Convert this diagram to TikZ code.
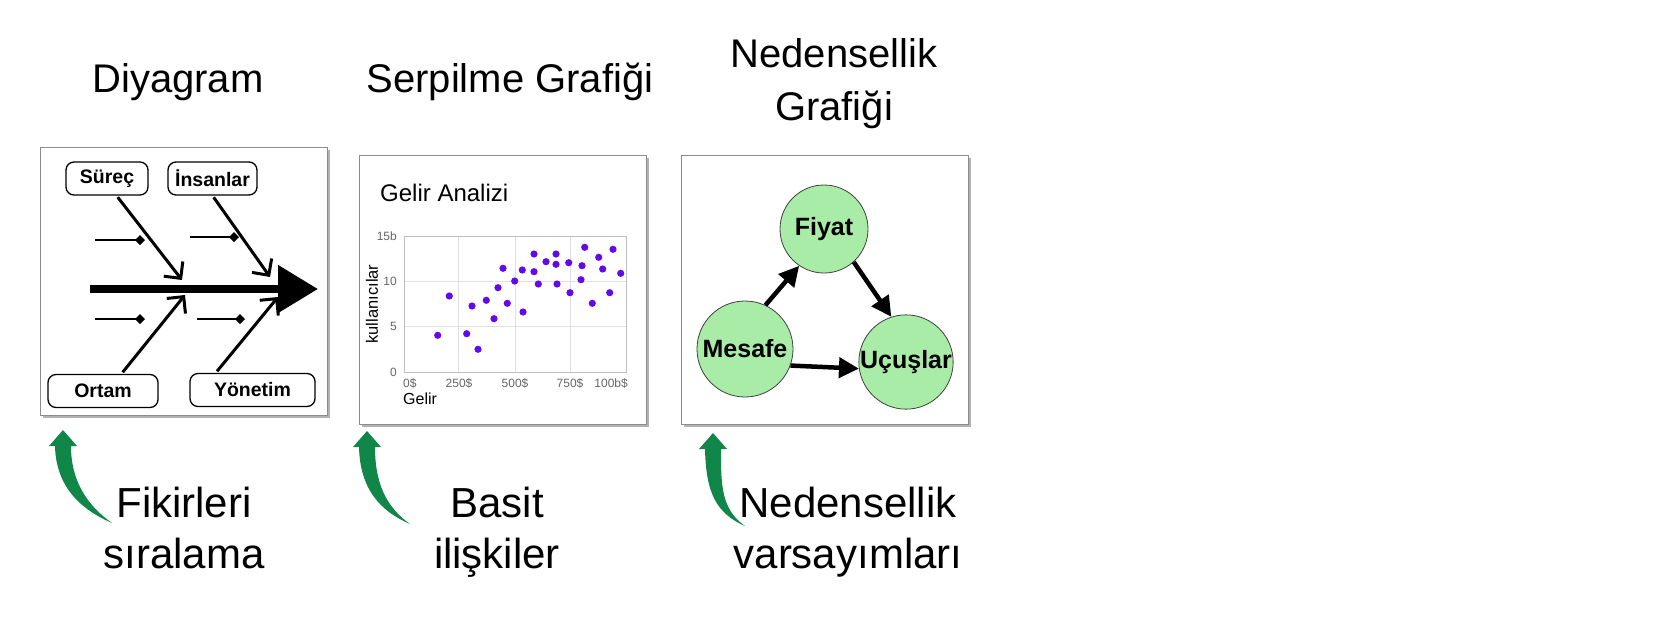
\documentclass[tikz,border=0pt]{standalone}
\usepackage{fontspec}
\setmainfont{Liberation Sans}
\usetikzlibrary{positioning, arrows.meta, calc, shadows}

\definecolor{arrowgreen}{RGB}{16,135,72}
\definecolor{nodegreen}{RGB}{168,236,168}
\definecolor{dotpurple}{RGB}{98,10,232}

\begin{document}
\begin{tikzpicture}[
    x=1pt, y=-1pt,          % 画像のピクセル座標をそのまま使う
    >=Stealth,
    font=\fontsize{40}{53}\selectfont,
    panel/.style={draw=black!45, line width=1pt, fill=white,
        drop shadow={shadow xshift=3pt, shadow yshift=-3pt, fill=black, opacity=0.3}},
    causebox/.style={draw, line width=1.3pt, rounded corners=8pt, fill=white,
        minimum height=33pt, inner sep=0pt, font=\fontsize{19.5}{22}\selectfont\bfseries},
    bone/.style={line width=3pt, -{Straight Barb[angle=90:17pt]}, shorten <=2pt},
    twig/.style={line width=1.5pt, -{Diamond[length=10pt, width=10pt]}},
    tick/.style={text=black!60, font=\fontsize{12}{14}\selectfont, inner sep=0pt},
    circ/.style={circle, draw=black!75, line width=0.8pt, fill=nodegreen,
        inner sep=0pt, font=\fontsize{25}{27}\selectfont\bfseries},
    cause/.style={line width=4.5pt, -{Triangle[length=20pt, width=20pt]}}
]
    \useasboundingbox (0,0) rectangle (1680,624);

    % --- 1. 見出し ---
    % 複数行のノードは最後の行のベースラインで合わせる
    \node [anchor=base] (titleA) at (178,92) {Diyagram};
    \node [anchor=base] (titleB) at (510,92) {Serpilme Grafiği};
    \node [anchor=base, align=center] (titleC) at (834,120) {Nedensellik\\Grafiği};

    % --- 2. 特性要因図 ---
    \draw [panel] (40,147) rectangle (327,415);
    \node [causebox, minimum width=82pt] (surec) at (107,178.5) {Süreç};
    \node [causebox, minimum width=89pt] (insanlar) at (212.5,178.5) {İnsanlar};
    \node [causebox, minimum width=110pt] (ortam) at (103,391) {Ortam};
    \node [causebox, minimum width=125pt] (yonetim) at (252.5,390) {Yönetim};

    % 背骨（太い矢印）
    \draw [line width=8pt, -{Triangle[length=40pt, width=46pt]}] (90,289) -- (318,289);

    \coordinate (b1) at (182,280);
    \coordinate (b2) at (270,277);
    \coordinate (b3) at (185,295);
    \coordinate (b4) at (278,297);
    \draw [bone] (surec.-61) -- (b1);
    \draw [bone] (insanlar.south) -- (b2);
    \draw [bone] (ortam.43) -- (b3);
    \draw [bone] (yonetim.155) -- (b4);

    % 小骨
    \draw [twig] (95,240) -- (145,240);
    \draw [twig] (190,237) -- (239,237);
    \draw [twig] (95,319) -- (145,319);
    \draw [twig] (197,319) -- (245,319);

    % --- 3. 散布図 ---
    \draw [panel] (359,155) rectangle (646,424);
    \node [anchor=base west, inner sep=0pt, font=\fontsize{24}{28}\selectfont] (chartTitle) at (380,201) {Gelir Analizi};

    \foreach \gx in {458,515,570}
        \draw [black!12, line width=0.8pt] (\gx,236) -- (\gx,372);
    \foreach \gy in {281,326}
        \draw [black!12, line width=0.8pt] (404,\gy) -- (626,\gy);
    \draw [black!25, line width=1pt] (404,236) rectangle (626,372);

    \foreach \v/\gy in {15b/236, 10/281, 5/326, 0/372}
        \node [tick, anchor=east] at (397,\gy) {\v};
    \node [tick, anchor=west] at (403,383) {0\$};
    \node [tick] at (459,383) {250\$};
    \node [tick] at (515,383) {500\$};
    \node [tick] at (570,383) {750\$};
    \node [tick, anchor=east] at (628,383) {100b\$};

    \node [anchor=west, inner sep=0pt, font=\fontsize{16}{18}\selectfont] (xlabel) at (403,399) {Gelir};
    \node [rotate=90, inner sep=0pt, font=\fontsize{16.5}{18}\selectfont] (ylabel) at (372,304) {kullanıcılar};

    \foreach \px/\py in {437.7/335.3, 449.3/296, 466.7/333.7, 472/306, 478/349.3,
                         486.3/300.3, 494/318.7, 498/287.7, 503/268.3, 507.3/303.3,
                         514.7/281, 523/312, 522.3/270, 534/254, 534/271.7,
                         538.3/284, 546/261.7, 556/254, 556/264.3, 557/284,
                         568.7/262.7, 570/292.7, 581/279.7, 582/265.7, 584.7/247.3,
                         592.3/303.3, 598.7/257.3, 602.7/269, 609.7/292.7, 613/249.3,
                         620.7/273.3}
        \fill [dotpurple] (\px,\py) circle (3.6pt);

    % --- 4. 因果グラフ ---
    \draw [panel] (681,155) rectangle (968,424);
    \node [circ, minimum size=88pt] (fiyat) at (824,229) {Fiyat};
    \node [circ, minimum size=96pt] (mesafe) at (745,349) {Mesafe};
    \node [circ, minimum size=90pt] (ucuslar) at (906,362) {Uçuşlar};

    \draw [cause] (mesafe.65) -- (fiyat.236);
    \draw [cause] (fiyat.-48) -- (ucuslar.108);
    \draw [cause] (mesafe.-20) -- (ucuslar.188);

    % --- 5. 緑の曲がった矢印と説明 ---
    \foreach \dx/\dy/\tl in {0/0/112, 304/1/106, 650/3/95}
        \fill [arrowgreen, shift={(\dx,\dy)}] (63,430) -- (77,446) -- (71,446)
            .. controls (71,482) and ({\tl-24},506) .. (\tl,523)
            .. controls ({\tl-30},510) and (56,488) .. (55,446) -- (49,446) -- cycle;

    \node [anchor=base, align=center, font=\fontsize{42}{51}\selectfont] (noteA) at (184,568) {Fikirleri\\sıralama};
    \node [anchor=base, align=center, font=\fontsize{42}{51}\selectfont] (noteB) at (497,568) {Basit\\ilişkiler};
    \node [anchor=base, align=center, font=\fontsize{42}{51}\selectfont] (noteC) at (848,568) {Nedensellik\\varsayımları};

\end{tikzpicture}
\end{document}
